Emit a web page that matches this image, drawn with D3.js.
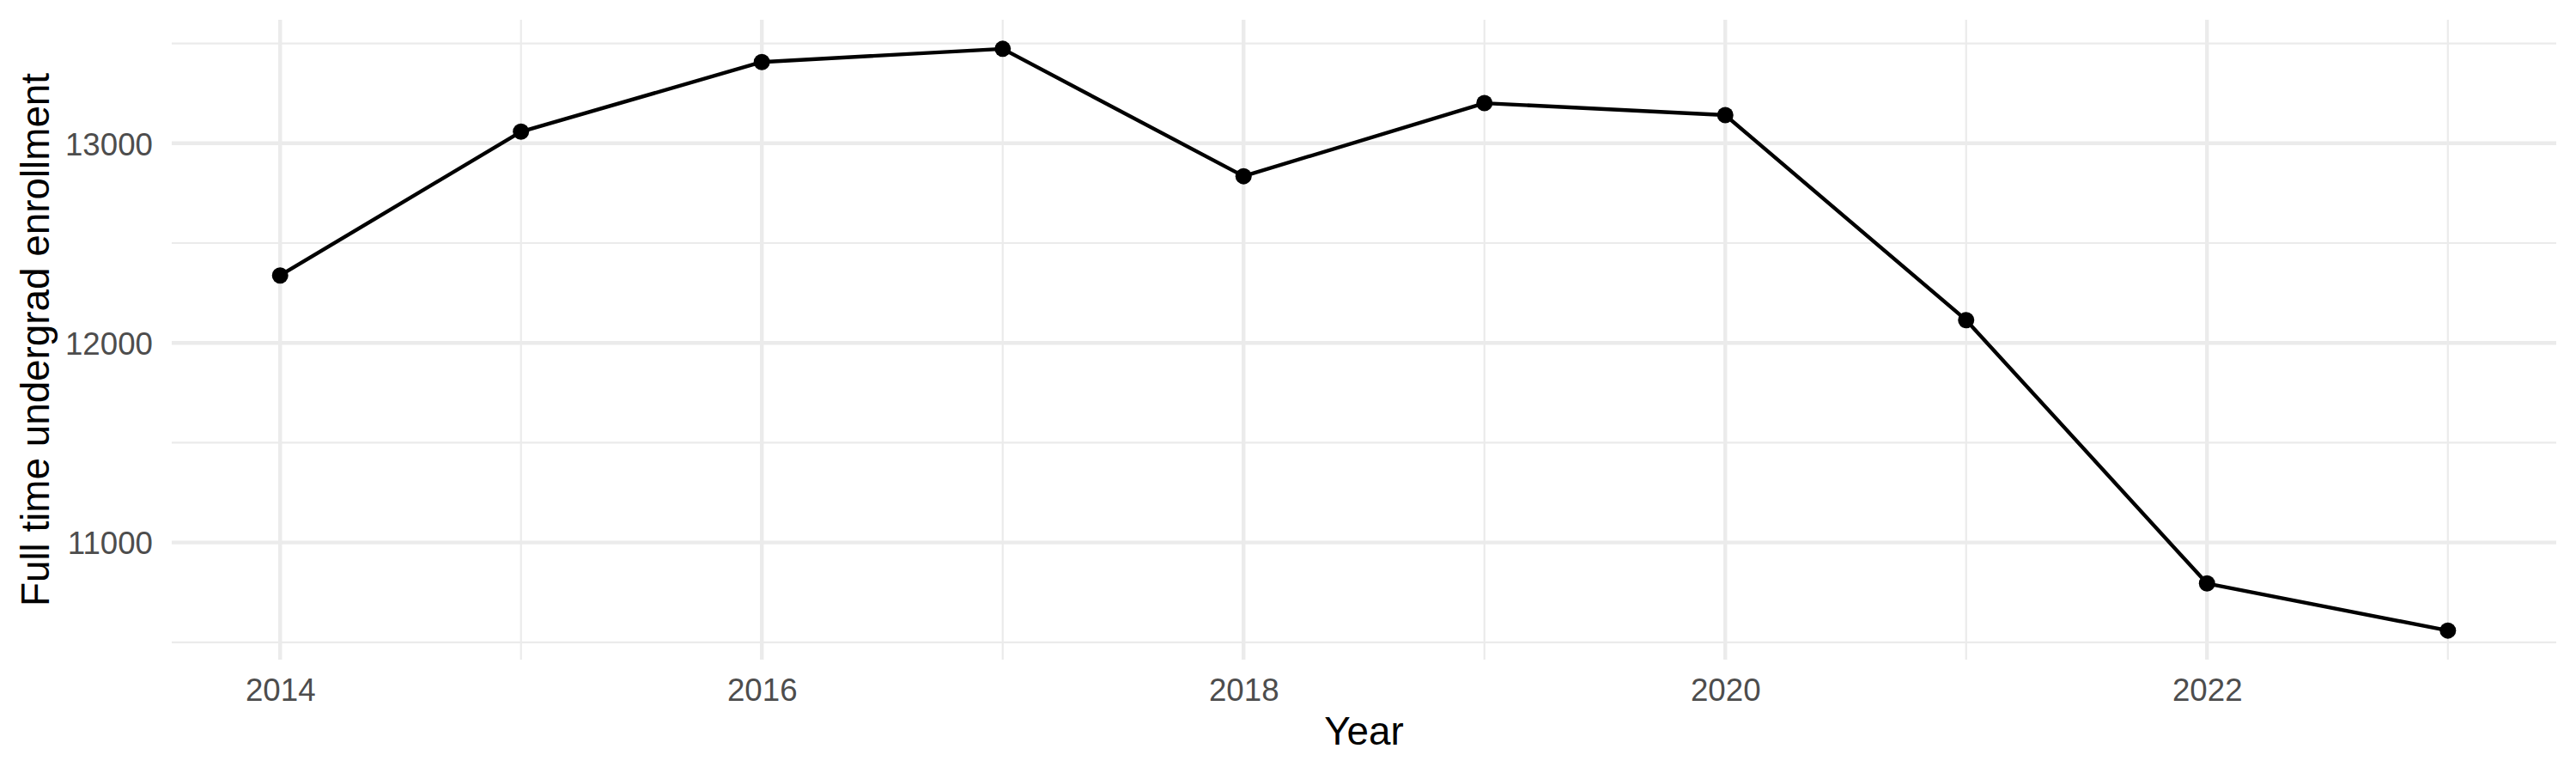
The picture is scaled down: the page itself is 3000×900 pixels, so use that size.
<!DOCTYPE html>
<html>
<head>
<meta charset="utf-8">
<script src="https://cdn.jsdelivr.net/npm/d3@7"></script>
<style>
  html, body { margin: 0; padding: 0; background: #fff; }
  svg { display: block; }
  text { font-family: "Liberation Sans", Arial, Helvetica, sans-serif; }
</style>
</head>
<body>
<svg id="chart" width="3000" height="900"></svg>
<script>
// Data
const years = [2014, 2015, 2016, 2017, 2018, 2019, 2020, 2021, 2022, 2023];
const enrollment = [12338, 13058, 13407, 13473, 12835, 13201, 13141, 12114, 10795, 10559];
const xMajorTicks = [2014, 2016, 2018, 2020, 2022];
const xMinorTicks = [2015, 2017, 2019, 2021, 2023];
const yMajorTicks = [11000, 12000, 13000];
const yMinorTicks = [10500, 11500, 12500, 13500];
const xTitle = "Year";
const yTitle = "Full time undergrad enrollment";

const W = 3000, H = 900;
const margin = { top: 23, right: 23, bottom: 132, left: 200 };

const svg = d3.select("#chart");

function expand(ext) {
  const pad = (ext[1] - ext[0]) * 0.05;
  return [ext[0] - pad, ext[1] + pad];
}

const x = d3.scaleLinear()
  .domain(expand(d3.extent(years)))
  .range([margin.left, W - margin.right]);
const y = d3.scaleLinear()
  .domain(expand(d3.extent(enrollment)))
  .range([H - margin.bottom, margin.top]);

const grid = svg.append("g");
const majorW = 4.4, minorW = 2.2, gridCol = "#EBEBEB";

// minor gridlines
grid.selectAll("line.ymin").data(yMinorTicks).join("line")
  .attr("x1", margin.left).attr("x2", W - margin.right)
  .attr("y1", d => y(d)).attr("y2", d => y(d))
  .attr("stroke", gridCol).attr("stroke-width", minorW);
grid.selectAll("line.xmin").data(xMinorTicks).join("line")
  .attr("y1", margin.top).attr("y2", H - margin.bottom)
  .attr("x1", d => x(d)).attr("x2", d => x(d))
  .attr("stroke", gridCol).attr("stroke-width", minorW);
// major gridlines
grid.selectAll("line.ymaj").data(yMajorTicks).join("line")
  .attr("x1", margin.left).attr("x2", W - margin.right)
  .attr("y1", d => y(d)).attr("y2", d => y(d))
  .attr("stroke", gridCol).attr("stroke-width", majorW);
grid.selectAll("line.xmaj").data(xMajorTicks).join("line")
  .attr("y1", margin.top).attr("y2", H - margin.bottom)
  .attr("x1", d => x(d)).attr("x2", d => x(d))
  .attr("stroke", gridCol).attr("stroke-width", majorW);

// axes (text only, ggplot theme_minimal style)
const xAxis = d3.axisBottom(x).tickValues(xMajorTicks).tickFormat(d3.format("d")).tickSize(0).tickPadding(0);
const gx = svg.append("g").attr("transform", `translate(0,${H - margin.bottom})`).call(xAxis);
gx.select(".domain").remove();
gx.selectAll("text")
  .attr("y", 0).attr("dy", null)
  .attr("transform", "translate(0,48)")
  .attr("fill", "#4D4D4D").style("font-size", "36.7px")
  .attr("font-family", null);

const yAxis = d3.axisLeft(y).tickValues(yMajorTicks).tickFormat(d3.format("d")).tickSize(0).tickPadding(0);
const gy = svg.append("g").attr("transform", `translate(${margin.left},0)`).call(yAxis);
gy.select(".domain").remove();
gy.selectAll("text")
  .attr("x", -22).attr("dy", "0.36em")
  .attr("fill", "#4D4D4D").style("font-size", "36.7px")
  .attr("font-family", null);

// line + points
const line = d3.line().x((d, i) => x(years[i])).y(d => y(d));
svg.append("path").datum(enrollment)
  .attr("d", line).attr("fill", "none")
  .attr("stroke", "#000").attr("stroke-width", 4.4)
  .attr("stroke-linejoin", "round");
svg.selectAll("circle.pt").data(enrollment).join("circle")
  .attr("cx", (d, i) => x(years[i])).attr("cy", d => y(d))
  .attr("r", 9.5).attr("fill", "#000");

// axis titles
svg.append("text")
  .attr("x", (margin.left + W - margin.right) / 2).attr("y", 866.5)
  .attr("text-anchor", "middle").attr("fill", "#000")
  .style("font-size", "45.8px").text(xTitle);
svg.append("text")
  .attr("transform", `translate(57,${(margin.top + H - margin.bottom) / 2}) rotate(-90)`)
  .attr("text-anchor", "middle").attr("fill", "#000")
  .style("font-size", "45.8px").text(yTitle);
</script>
</body>
</html>
